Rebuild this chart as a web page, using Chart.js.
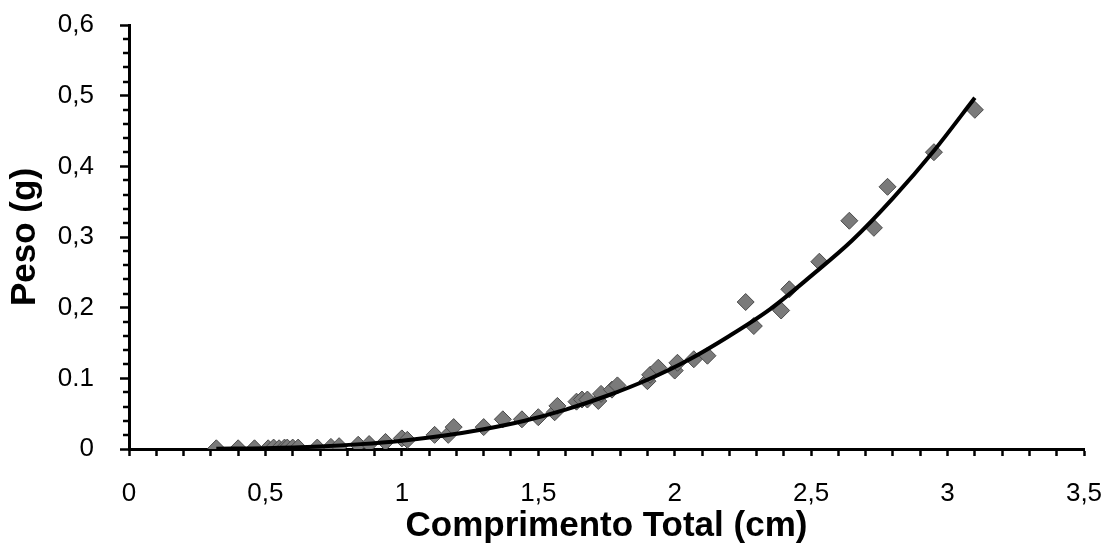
<!DOCTYPE html>
<html><head><meta charset="utf-8">
<script src="https://cdn.jsdelivr.net/npm/chart.js@4"></script>
<style>html,body{margin:0;padding:0;background:#fff}#wrap{width:1105px;height:545px}</style>
</head><body><div id="wrap"><canvas id="c" width="1105" height="545"></canvas></div>
<script>
const lengthCm = [0.32,0.40,0.46,0.51,0.53,0.55,0.57,0.58,0.60,0.62,0.69,0.74,0.77,0.84,0.88,0.94,1.00,1.02,1.12,1.17,1.19,1.30,1.37,1.44,1.50,1.56,1.57,1.64,1.66,1.68,1.72,1.73,1.77,1.79,1.90,1.91,1.94,2.00,2.01,2.07,2.12,2.26,2.29,2.39,2.42,2.53,2.64,2.73,2.78,2.95,3.10];
const weightG = [0.001,0.001,0.001,0.001,0.002,0.001,0.002,0.002,0.002,0.002,0.002,0.003,0.004,0.006,0.007,0.010,0.015,0.013,0.020,0.020,0.031,0.031,0.042,0.042,0.045,0.052,0.061,0.067,0.070,0.070,0.068,0.078,0.084,0.090,0.096,0.105,0.115,0.111,0.122,0.127,0.132,0.208,0.174,0.196,0.226,0.265,0.323,0.313,0.371,0.420,0.480];
const trendLength = [0.32,0.5,0.7,0.85,1.0,1.15,1.3,1.45,1.6,1.75,1.9,2.05,2.2,2.35,2.5,2.65,2.8,2.95,3.1];
const trendWeight = [0.0005,0.0012,0.0036,0.0069,0.0118,0.0187,0.028,0.040,0.0558,0.075,0.098,0.126,0.160,0.198,0.245,0.295,0.355,0.422,0.497];
const xTickLabels = ['0','0,5','1','1,5','2','2,5','3','3,5'];
const yTickLabels = ['0','0.1','0,2','0,3','0,4','0,5','0,6'];
const xTitle = 'Comprimento Total (cm)';
const yTitle = 'Peso (g)';

const pts = lengthCm.map((x,i)=>({x:x,y:weightG[i]}));
const trendPts = trendLength.map((x,i)=>({x:x,y:trendWeight[i]}));

const minorTicks = {
  id:'minorTicks',
  afterDraw(chart){
    const y = chart.scales.y, ctx = chart.ctx, left = chart.chartArea.left;
    ctx.save();
    ctx.strokeStyle = '#000'; ctx.lineWidth = 2.5;
    for (let i=0;i<=30;i++){
      if (i%5===0) continue;
      const py = Math.round(y.getPixelForValue(i*0.02));
      ctx.beginPath(); ctx.moveTo(left-6,py); ctx.lineTo(left,py); ctx.stroke();
    }
    ctx.restore();
  }
};

const tickFont = {family:'Liberation Sans', size:26};
const titleFont = {family:'Liberation Sans', size:35, weight:'bold', lineHeight:1};

new Chart(document.getElementById('c'), {
  type:'scatter',
  data:{datasets:[
    {type:'line', data:trendPts, borderColor:'#000', borderWidth:4, pointRadius:0, tension:0.4, cubicInterpolationMode:'monotone', fill:false},
    {data:pts, pointStyle:'rectRot', pointRadius:8.5, backgroundColor:'#7a7a7a', borderColor:'#4a4a4a', borderWidth:1}
  ]},
  options:{
    responsive:false, animation:false, devicePixelRatio:1,
    layout:{padding:{top:25,right:21,left:0,bottom:0}},
    plugins:{legend:{display:false}, tooltip:{enabled:false}},
    scales:{
      x:{type:'linear', min:0, max:3.5,
        afterFit:s=>{s.height=96; s.paddingRight=0; s.paddingLeft=0;},
        ticks:{stepSize:0.1, autoSkip:false, maxRotation:0, padding:22, color:'#000', font:tickFont,
          callback:(v,i)=> (i%5===0 ? xTickLabels[i/5] : '')},
        grid:{drawOnChartArea:false, drawTicks:true, tickLength:7, tickWidth:2.5, tickColor:'#000'},
        border:{display:true, color:'#000', width:3},
        title:{display:true, text:xTitle, color:'#000', font:titleFont, padding:{top:0,bottom:1}}
      },
      y:{type:'linear', min:0, max:0.6,
        afterFit:s=>{s.width=129; s.paddingTop=0; s.paddingBottom=0;},
        ticks:{stepSize:0.1, color:'#000', font:tickFont, padding:26,
          callback:(v,i)=> yTickLabels[i]},
        grid:{drawOnChartArea:false, drawTicks:true, tickLength:9, tickWidth:2.5, tickColor:'#000'},
        border:{display:true, color:'#000', width:3},
        title:{display:true, text:yTitle, color:'#000', font:titleFont, padding:{top:8,bottom:0}}
      }
    }
  },
  plugins:[minorTicks]
});
</script></body></html>
